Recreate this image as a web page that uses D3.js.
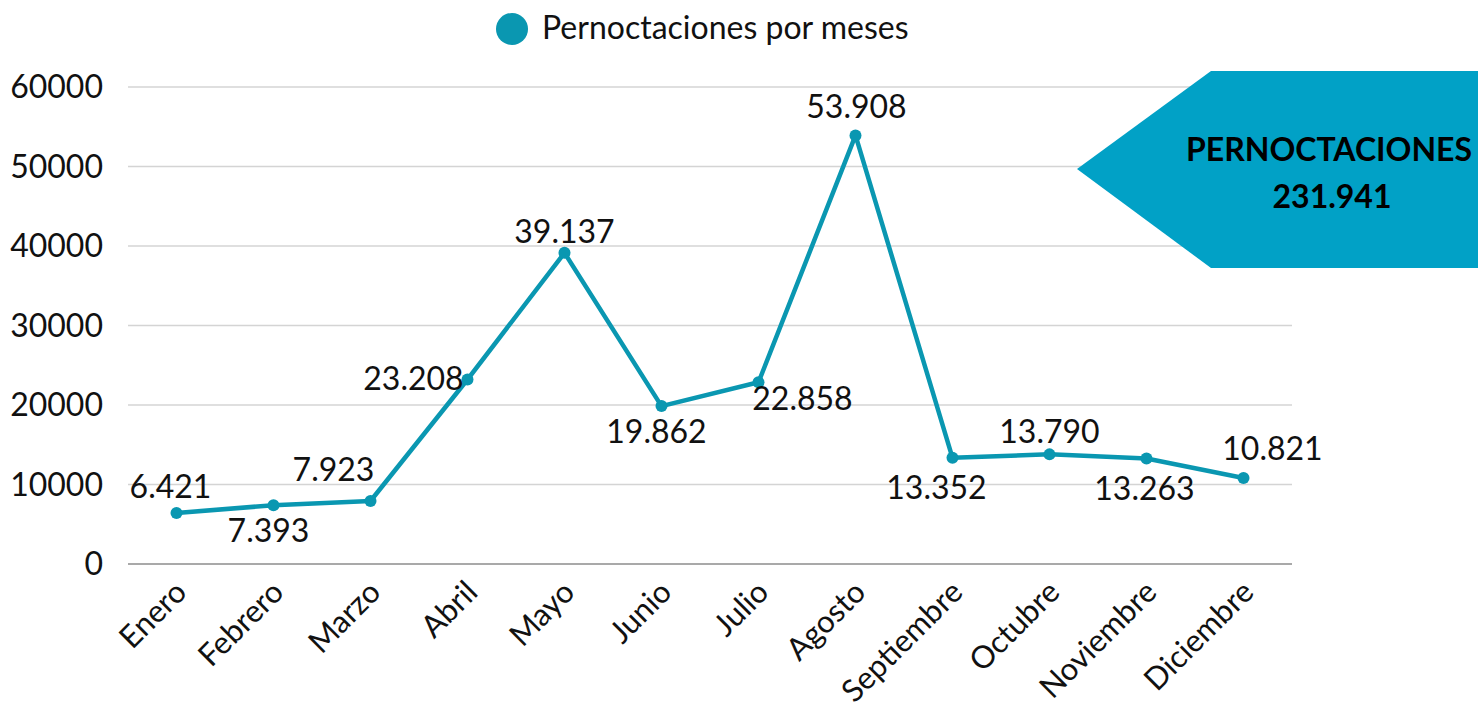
<!DOCTYPE html>
<html><head><meta charset="utf-8">
<script src="https://cdn.jsdelivr.net/npm/d3@7"></script>
<style>body{margin:0;background:#fff;font-family:Lato,sans-serif}</style>
</head><body><svg id="c" width="1478" height="709"></svg>
<script>
const months = ["Enero","Febrero","Marzo","Abril","Mayo","Junio","Julio","Agosto","Septiembre","Octubre","Noviembre","Diciembre"];
const values = [6421,7393,7923,23208,39137,19862,22858,53908,13352,13790,13263,10821];
const yTicks = [0,10000,20000,30000,40000,50000,60000];
const seriesName = "Pernoctaciones por meses";
const totalTitle = "PERNOCTACIONES";
const totalValue = 231941;
// label placement per point (layout only)
const labelPos = [[-6,-15],[-5,37],[-37,-20],[-54,11],[0,-10],[-5,37],[44,28],[1,-17],[-16,41],[0,-11],[-2,41],[29,-18]];

const fmt = v => d3.format(",")(v).replace(/,/g,".");
const color = "#0a97b1";
const svg = d3.select("#c");
const x = d3.scaleBand().domain(months).range([128,1292]);
const cx = d => x(d)+x.bandwidth()/2;
const y = d3.scaleLinear().domain([0,60000]).range([564,87]);

// gridlines
svg.append("g").selectAll("line").data(yTicks.filter(t=>t>0)).join("line")
  .attr("x1",128).attr("x2",1292).attr("y1",d=>y(d)).attr("y2",d=>y(d))
  .attr("stroke","#d4d4d4").attr("stroke-width",1.3);
svg.append("line").attr("x1",128).attr("x2",1292).attr("y1",y(0)).attr("y2",y(0))
  .attr("stroke","#8c8c8c").attr("stroke-width",1.5);

// y axis labels
svg.append("g").selectAll("text").data(yTicks).join("text")
  .attr("x",103).attr("y",d=>y(d)+11).attr("text-anchor","end")
  .attr("font-size",32).attr("fill","#111").text(d=>d);

// x labels
svg.append("g").selectAll("text").data(months).join("text")
  .attr("transform",d=>`translate(${cx(d)+12},${y(0)+30}) rotate(-45)`)
  .attr("text-anchor","end").attr("font-size",31).attr("fill","#111").text(d=>d);

// line
const pts = months.map((m,i)=>({m,v:values[i],i}));
svg.append("path").datum(pts)
  .attr("d",d3.line().x(d=>cx(d.m)).y(d=>y(d.v)))
  .attr("fill","none").attr("stroke",color).attr("stroke-width",4.5).attr("stroke-linejoin","round");
svg.append("g").selectAll("circle").data(pts).join("circle")
  .attr("cx",d=>cx(d.m)).attr("cy",d=>y(d.v)).attr("r",6).attr("fill",color);

// data labels
svg.append("g").selectAll("text").data(pts).join("text")
  .attr("x",d=>cx(d.m)+labelPos[d.i][0]).attr("y",d=>y(d.v)+labelPos[d.i][1])
  .attr("text-anchor","middle").attr("font-size",32).attr("fill","#111").text(d=>fmt(d.v));

// legend
svg.append("circle").attr("cx",512).attr("cy",29).attr("r",16).attr("fill",color);
svg.append("text").attr("x",542).attr("y",39).attr("font-size",32).attr("fill","#111").text(seriesName);

// total callout
svg.append("polygon").attr("points","1077,169 1211,71 1478,71 1478,268 1211,268").attr("fill","#01a1c6");
svg.append("text").attr("x",1329).attr("y",161).attr("text-anchor","middle").attr("font-size",32).attr("font-weight","bold").attr("fill","#000").text(totalTitle);
svg.append("text").attr("x",1332).attr("y",208).attr("text-anchor","middle").attr("font-size",32).attr("font-weight","bold").attr("fill","#000").text(fmt(totalValue));
</script></body></html>
